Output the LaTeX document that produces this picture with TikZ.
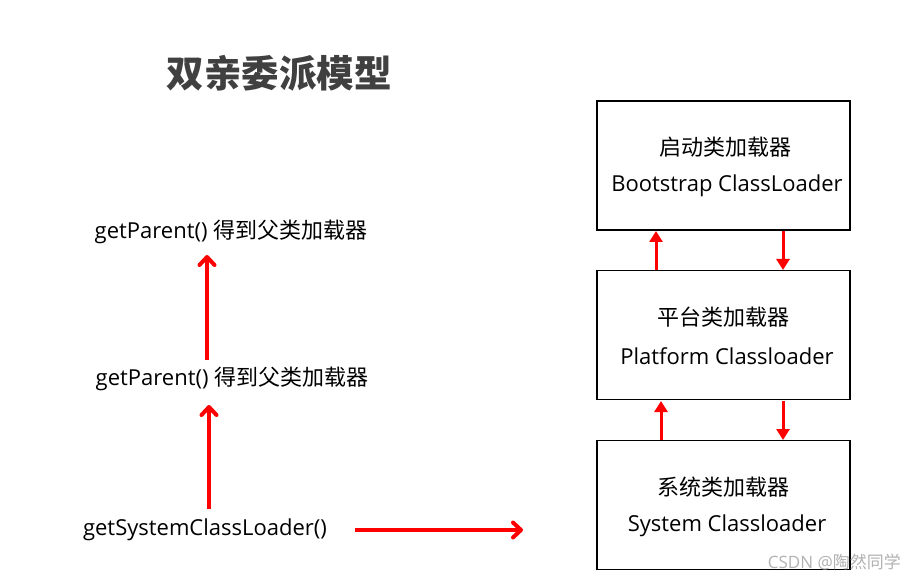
\documentclass[tikz,border=0pt]{standalone}
\usepackage{fontspec}
\setmainfont{Open Sans}
\newfontfamily\cjk{Noto Sans CJK SC}
\usetikzlibrary{arrows.meta}
\begin{document}
\begin{tikzpicture}[x=1pt,y=-1pt,
  loader/.style={draw=black, line width=1.8pt, minimum width=253pt, minimum height=129pt, inner sep=0pt},
  txt/.style={font=\fontsize{22}{26}\selectfont, inner sep=0pt, anchor=center},
  redarrow/.style={draw=red, line width=4pt, -{Straight Barb[length=8pt,width=15pt,line cap=round,line join=round]}},
  linkarrow/.style={draw=red, line width=3pt, -{Triangle[length=11pt,width=13pt]}}]
\useasboundingbox (0,0) rectangle (916,580);
\fill[white] (0,0) rectangle (916,580);

\node[anchor=center, inner sep=0pt, text=black!75, font=\fontsize{37.5}{42}\selectfont\cjk\bfseries] (title) at (279,73) {双亲委派模型};

% boxes
\node[loader] (b1) at (723.5,165.5) {};
\node[loader] (b2) at (723.5,335) {};
\node[loader] (b3) at (723.5,505) {};

\node[txt] (b1a) at (725,147) {\cjk 启动类加载器};
\node[txt] (b1b) at (727,186) {Bootstrap ClassLoader};
\node[txt] (b2a) at (723,317) {\cjk 平台类加载器};
\node[txt] (b2b) at (727,356) {Platform Classloader};
\node[txt] (b3a) at (723,487) {\cjk 系统类加载器};
\node[txt] (b3b) at (727,526) {System Classloader};

% arrows between boxes
\coordinate (u1s) at (656,270); \coordinate (u1e) at (656,231);
\coordinate (d1s) at (783,231); \coordinate (d1e) at (783,270);
\coordinate (u2s) at (661,440); \coordinate (u2e) at (661,401);
\coordinate (d2s) at (783,401); \coordinate (d2e) at (783,440);
\draw[linkarrow] (u1s) -- (u1e);
\draw[linkarrow] (d1s) -- (d1e);
\draw[linkarrow] (u2s) -- (u2e);
\draw[linkarrow] (d2s) -- (d2e);

% left side
\node[txt] (p1) at (231,232) {getParent() {\cjk 得到父类加载器}};
\node[txt] (p2) at (232,379) {getParent() {\cjk 得到父类加载器}};
\node[txt] (sys) at (205,530) {getSystemClassLoader()};

\coordinate (a1s) at (207,360); \coordinate (a1e) at (207,255);
\coordinate (a2s) at (209,509); \coordinate (a2e) at (209,405);
\coordinate (hs) at (355,530); \coordinate (he) at (523,530);
\draw[redarrow] (a1s) -- (a1e);
\draw[redarrow] (a2s) -- (a2e);
\draw[redarrow] (hs) -- (he);

\node[anchor=east, inner sep=0pt, text=black!30, font=\fontsize{17}{20}\selectfont] (wm) at (901,562) {CSDN @{\cjk 陶然同学}};
\end{tikzpicture}
\end{document}
